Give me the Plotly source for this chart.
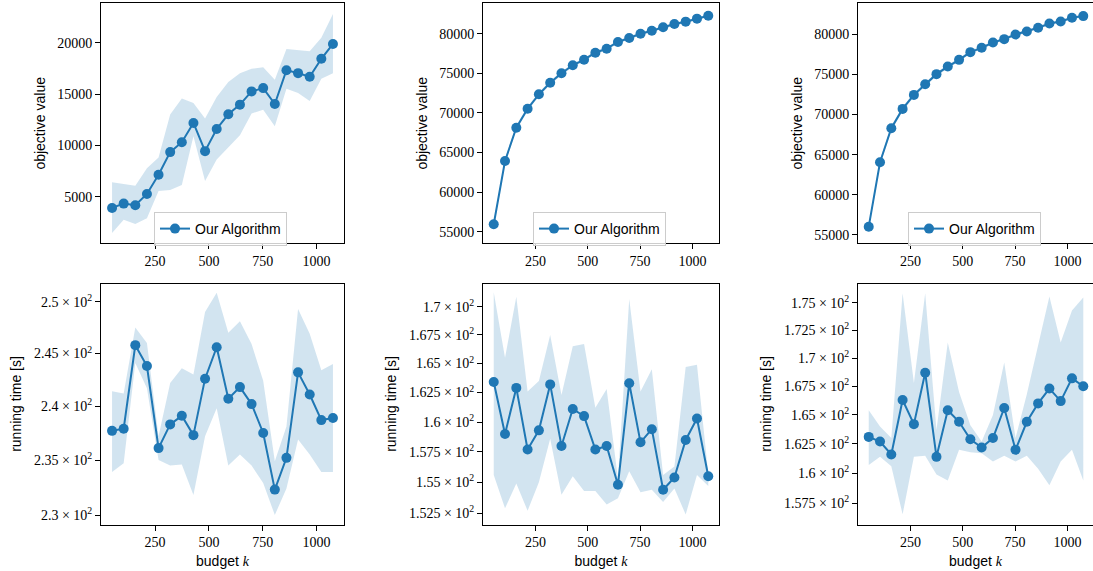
import plotly.graph_objects as go
import math

W, H = 1093, 571

budget = [50, 104, 158, 212, 266, 320, 374, 428, 482, 536, 590, 644, 698, 752, 806, 860, 914, 968, 1022, 1076]

# ---- top row: objective value ----
obj1_mean = [3900, 4320, 4165, 5262, 7136, 9340, 10310, 12185, 9437, 11600,
             13030, 13970, 15260, 15580, 14030, 17330, 17040, 16690, 18440, 19890]
obj1_upper = [6398, 6200, 6070, 7757, 8825, 13000, 14580, 14130, 12610, 14710,
              16165, 17040, 17470, 17620, 16400, 19400, 19310, 19170, 20480, 22810]
obj1_lower = [1447, 2740, 2320, 2900, 5553, 5650, 6136, 10890, 6524, 8630,
              9854, 10990, 13100, 13480, 11860, 15520, 15100, 14320, 16500, 17040]

obj2_mean = [55934, 63927, 68131, 70530, 72350, 73810, 75000, 76010, 76720, 77600,
             78105, 78950, 79460, 80000, 80380, 80810, 81225, 81520, 81900, 82275]
obj2_spread = [350, 300, 300, 280, 260, 250, 240, 230, 220, 210,
               200, 200, 190, 190, 180, 180, 170, 170, 160, 160]

obj3_mean = [56035, 64065, 68300, 70710, 72456, 73790, 75037, 75985, 76820, 77780,
             78317, 78980, 79400, 79970, 80350, 80810, 81350, 81600, 82060, 82270]
obj3_spread = [350, 300, 300, 280, 260, 250, 240, 230, 220, 210,
               200, 200, 190, 190, 180, 180, 170, 170, 160, 160]

# ---- bottom row: running time [s] ----
rt1_mean = [237.7, 237.9, 245.8, 243.8, 236.1, 238.3, 239.1, 237.3, 242.6, 245.6,
            240.7, 241.8, 240.2, 237.5, 232.3, 235.2, 243.2, 241.1, 238.7, 238.9]
rt1_upper = [241.4, 241.2, 247.5, 246.0, 237.2, 242.2, 243.6, 243.0, 249.0, 250.9,
             247.0, 248.1, 245.9, 242.4, 234.9, 238.1, 249.3, 246.9, 243.4, 244.0]
rt1_lower = [233.9, 234.7, 244.1, 241.7, 235.0, 234.5, 234.6, 231.8, 237.2, 239.8,
             234.5, 235.5, 234.5, 232.9, 230.0, 232.4, 236.9, 235.5, 233.9, 233.9]

rt2_mean = [163.4, 159.0, 162.9, 157.7, 159.3, 163.2, 158.0, 161.1, 160.5, 157.7,
            158.0, 154.8, 163.3, 158.3, 159.4, 154.4, 155.4, 158.5, 160.3, 155.5]
rt2_upper = [171.3, 165.5, 170.9, 162.6, 163.5, 167.5, 162.3, 166.5, 166.7, 161.2,
             162.8, 155.3, 170.7, 162.6, 164.5, 155.6, 156.3, 164.7, 164.9, 155.7]
rt2_lower = [155.6, 152.9, 154.9, 152.7, 155.0, 158.6, 154.0, 155.5, 154.3, 154.3,
             153.2, 153.7, 155.9, 154.2, 154.4, 153.4, 154.5, 152.4, 155.6, 154.7]

rt3_mean = [163.1, 162.7, 161.6, 166.3, 164.2, 168.7, 161.4, 165.4, 164.4, 162.9,
            162.2, 163.0, 165.6, 162.0, 164.4, 166.0, 167.3, 166.2, 168.2, 167.5]
rt3_upper = [165.4, 164.0, 163.0, 175.9, 167.8, 175.9, 163.7, 171.4, 167.0, 164.1,
             162.7, 165.0, 169.6, 163.0, 166.8, 171.1, 175.6, 171.4, 174.3, 175.5]
rt3_lower = [160.7, 161.4, 160.6, 156.6, 161.4, 161.5, 159.9, 159.4, 162.0, 161.8,
             161.7, 161.0, 161.5, 161.0, 161.5, 160.4, 159.0, 161.0, 162.0, 159.4]

rt1_ticks = [230, 235, 240, 245, 250]
rt1_labels = ["2.3", "2.35", "2.4", "2.45", "2.5"]
rt2_ticks = [152.5, 155, 157.5, 160, 162.5, 165, 167.5, 170]
rt2_labels = ["1.525", "1.55", "1.575", "1.6", "1.625", "1.65", "1.675", "1.7"]
rt3_ticks = [157.5, 160, 162.5, 165, 167.5, 170, 172.5, 175]
rt3_labels = ["1.575", "1.6", "1.625", "1.65", "1.675", "1.7", "1.725", "1.75"]

x_ticks = [250, 500, 750, 1000]

BLUE = "#1f77b4"
BAND = "rgba(31,119,180,0.2)"
SERIF = "Liberation Serif"
SANS = "Liberation Sans"

# panel pixel boxes (left, right) and (top, bottom)
cols = [(101, 344), (483, 719), (858, 1093)]
rows = [(3.3, 243.3), (283.5, 524.5)]
xranges = [[-1.3, 1127.3], [-1.3, 1127.3], [-1.3, 1122.5]]

fig = go.Figure()

panels = [
    (obj1_mean, obj1_upper, obj1_lower),
    (obj2_mean, [m + s for m, s in zip(obj2_mean, obj2_spread)], [m - s for m, s in zip(obj2_mean, obj2_spread)]),
    (obj3_mean, [m + s for m, s in zip(obj3_mean, obj3_spread)], [m - s for m, s in zip(obj3_mean, obj3_spread)]),
    (rt1_mean, rt1_upper, rt1_lower),
    (rt2_mean, rt2_upper, rt2_lower),
    (rt3_mean, rt3_upper, rt3_lower),
]

for i, (mean, up, lo) in enumerate(panels):
    n = i + 1
    xa = "x" if n == 1 else f"x{n}"
    ya = "y" if n == 1 else f"y{n}"
    fig.add_trace(go.Scatter(
        x=budget + budget[::-1], y=up + lo[::-1], fill="toself", fillcolor=BAND,
        line=dict(width=0, color=BAND), mode="lines", hoverinfo="skip",
        showlegend=False, xaxis=xa, yaxis=ya))
    leg = None
    if i < 3:
        leg = "legend" if i == 0 else f"legend{i+1}"
    kw = dict(legend=leg) if leg else {}
    fig.add_trace(go.Scatter(
        x=budget, y=mean, mode="lines+markers", name="Our Algorithm",
        line=dict(color=BLUE, width=2), marker=dict(color=BLUE, size=10),
        showlegend=(i < 3), xaxis=xa, yaxis=ya, **kw))

axis_common = dict(
    showline=True, mirror=True, linecolor="#000000", linewidth=1,
    ticks="outside", ticklen=5, tickwidth=1, tickcolor="#000000",
    showgrid=False, zeroline=False, automargin=False,
    tickfont=dict(family=SERIF, size=14, color="#000000"),
)

y_ranges_top = [[450, 23850], [53535, 83838], [53965, 83865]]
rt_ranges = [[229.15, 251.8], [151.6, 172.1], [155.76, 176.8]]
rt_ticks = [(rt1_ticks, rt1_labels), (rt2_ticks, rt2_labels), (rt3_ticks, rt3_labels)]

layout = dict(
    width=W, height=H, margin=dict(l=0, r=0, t=0, b=0),
    plot_bgcolor="white", paper_bgcolor="white",
)

for i in range(6):
    n = i + 1
    r = i // 3
    c = i % 3
    xl, xr = cols[c]
    yt, yb = rows[r]
    xkey = "xaxis" if n == 1 else f"xaxis{n}"
    ykey = "yaxis" if n == 1 else f"yaxis{n}"
    xd = dict(axis_common)
    xd.update(domain=[xl / W, min(xr / W, 1.0)], range=xranges[c],
              tickmode="array", tickvals=x_ticks, ticktext=[str(v) for v in x_ticks],
              anchor="y" if n == 1 else f"y{n}")
    if r == 1:
        xd["title"] = dict(text="budget <i><span style='font-family:Liberation Serif'>k</span></i>",
                           font=dict(family=SANS, size=14, color="#000000"), standoff=6)
    yd = dict(axis_common)
    yd.update(domain=[1 - yb / H, 1 - yt / H], anchor="x" if n == 1 else f"x{n}")
    if r == 0:
        yd.update(range=y_ranges_top[c], tickformat="d", dtick=5000, tick0=0,
                  title=dict(text="objective value", font=dict(family=SANS, size=14, color="#000000"), standoff=8))
    else:
        tv, tl = rt_ticks[c]
        yd.update(type="log", range=[math.log10(rt_ranges[c][0]), math.log10(rt_ranges[c][1])],
                  tickmode="array", tickvals=tv,
                  ticktext=[f"{t} × 10<sup>2</sup>" for t in tl],
                  title=dict(text="running time [s]", font=dict(family=SANS, size=14, color="#000000"), standoff=8))
    layout[xkey] = xd
    layout[ykey] = yd

leg_pos = [(154, 212), (533, 212), (908, 212)]
for i, (lx, ly) in enumerate(leg_pos):
    key = "legend" if i == 0 else f"legend{i+1}"
    layout[key] = dict(
        x=lx / W, y=1 - ly / H, xanchor="left", yanchor="top",
        bgcolor="rgba(255,255,255,0.8)", bordercolor="#cccccc", borderwidth=1,
        font=dict(family=SANS, size=14, color="#000000"),
        itemwidth=30, tracegroupgap=0,
    )

fig.update_layout(**layout)
fig.write_html(
    "out.html",
    config={"displayModeBar": False},
    post_script="document.body.style.margin='0';document.body.style.padding='0';document.body.style.overflow='hidden';",
)
